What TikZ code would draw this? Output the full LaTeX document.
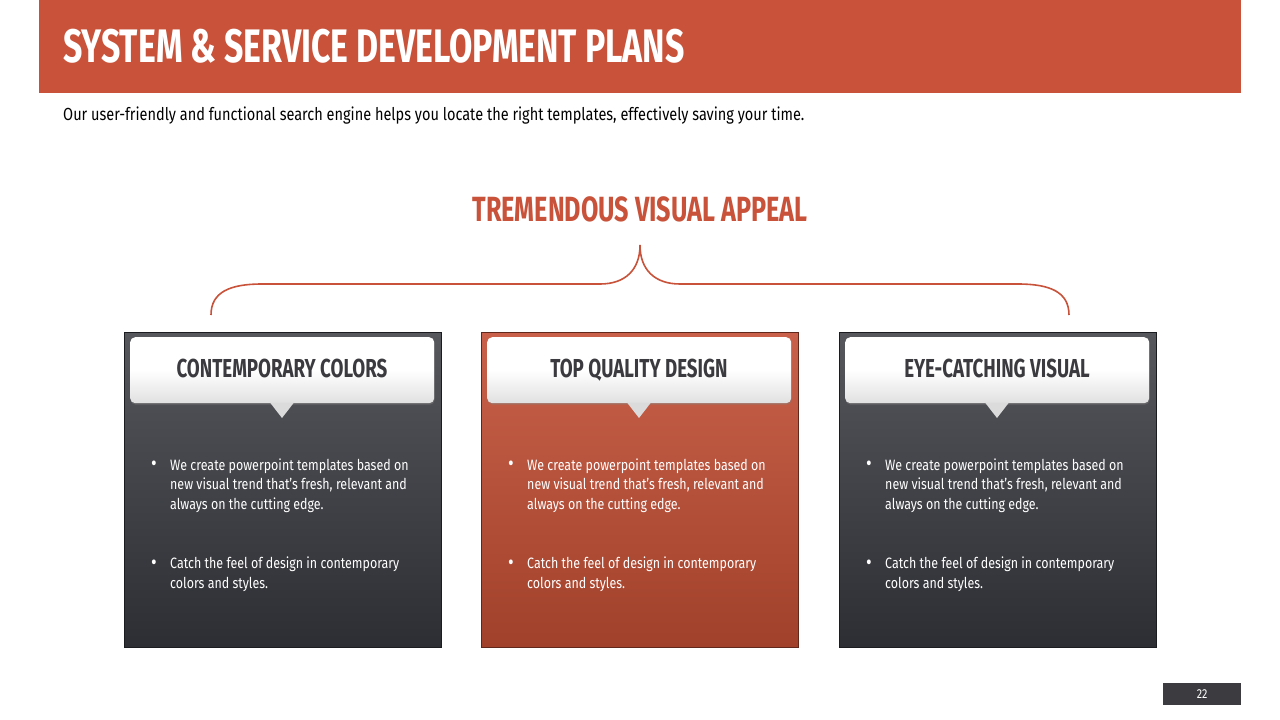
\documentclass[tikz,border=0pt]{standalone}
\usepackage{fontspec}
\setmainfont{Fira Sans}[FakeStretch=0.83]
\newfontfamily\headfont{Fira Sans}[FakeStretch=0.72,UprightFont=* SemiBold,BoldFont=* Bold]
\usetikzlibrary{shadows}
\definecolor{brick}{RGB}{200,82,58}
\definecolor{brickdark}{RGB}{161,65,43}
\definecolor{bricktop}{RGB}{201,97,74}
\definecolor{slatetop}{RGB}{86,87,92}
\definecolor{slatebot}{RGB}{45,46,51}
\definecolor{inkgrey}{RGB}{59,59,63}
\definecolor{pagebox}{RGB}{60,60,64}
\tikzset{
  panel/.style={anchor=north west, minimum width=317pt, minimum height=315pt, draw=#1!60!black, line width=0.6pt, inner sep=0pt},
  darkpanel/.style={panel=slatebot, top color=slatetop, bottom color=slatebot},
  redpanel/.style={panel=brickdark, top color=bricktop, bottom color=brickdark},
  callout/.style={anchor=north west, minimum width=304pt, minimum height=66pt, rounded corners=5pt, top color=white, bottom color=white!88!black, middle color=white, drop shadow={shadow xshift=0.5pt, shadow yshift=-1.5pt, opacity=0.45}, inner sep=0pt},
  callouttext/.style={anchor=base, text=inkgrey, inner sep=0pt, font=\headfont\bfseries\fontsize{26}{28}\selectfont},
  pointer/.style={fill=white!86!black},
  bodytext/.style={anchor=north west, text=white, align=left, inner sep=0pt, font=\fontsize{15}{19.5}\selectfont},
  dot/.style={anchor=base west, text=white, inner sep=0pt, font=\fontsize{21}{21}\selectfont},
  brace/.style={draw=brick, line width=1.6pt}
}
\begin{document}
\begin{tikzpicture}[x=1pt,y=-1pt]
\useasboundingbox (0,0) rectangle (1280,720);
\fill[white] (0,0) rectangle (1280,720);
% header
\node[fill=brick, anchor=north west, minimum width=1202pt, minimum height=93pt, inner sep=0pt] (header) at (39,0) {};
\node[anchor=base west, text=white, inner sep=0pt, font=\headfont\bfseries\fontsize{47}{50}\selectfont] (title) at (63,62) {SYSTEM \& SERVICE DEVELOPMENT PLANS};
\node[anchor=base west, text=black, inner sep=0pt, font=\fontsize{17.5}{20}\selectfont] (subtitle) at (63,120) {Our user-friendly and functional search engine helps you locate the right templates, effectively saving your time.};
% main heading
\node[anchor=base, text=brick, inner sep=0pt, font=\headfont\bfseries\fontsize{35}{38}\selectfont] (appeal) at (640,221) {TREMENDOUS VISUAL APPEAL};
% brace
\coordinate (bl) at (211,315);
\coordinate (bm) at (640,245);
\coordinate (br) at (1069,315);
\draw[brace] (bl) .. controls (211,292) and (230,284) .. (262,284) -- (600,284) .. controls (625,284) and (640,270) .. (bm);
\draw[brace] (br) .. controls (1069,292) and (1050,284) .. (1018,284) -- (680,284) .. controls (655,284) and (640,270) .. (bm);
% panels
\foreach \px/\sty/\nm/\ttl in {124/darkpanel/left/CONTEMPORARY COLORS, 481/redpanel/mid/TOP QUALITY DESIGN, 839/darkpanel/right/EYE-CATCHING VISUAL}{
  \node[\sty] (p\nm) at (\px,332) {};
  \node[callout] (c\nm) at (\px+6,337) {};
  \fill[pointer] (\px+146,402.5) -- (\px+158,418) -- (\px+170,402.5) -- cycle;
  \node[callouttext] (t\nm) at (\px+158,377.5) {\ttl};
  \node[dot] (d1\nm) at (\px+27,470.5) {•};
  \node[bodytext] (b1\nm) at (\px+46,458.5) {We create powerpoint templates based on\\new visual trend that’s fresh, relevant and\\always on the cutting edge.};
  \node[dot] (d2\nm) at (\px+27,569) {•};
  \node[bodytext] (b2\nm) at (\px+46,557) {Catch the feel of design in contemporary\\colors and styles.};
}
% page number
\node[fill=pagebox, anchor=north west, minimum width=78pt, minimum height=22pt, inner sep=0pt, text=white, font=\fontsize{13}{15}\selectfont] (pagenum) at (1163,683) {22};
\end{tikzpicture}
\end{document}
